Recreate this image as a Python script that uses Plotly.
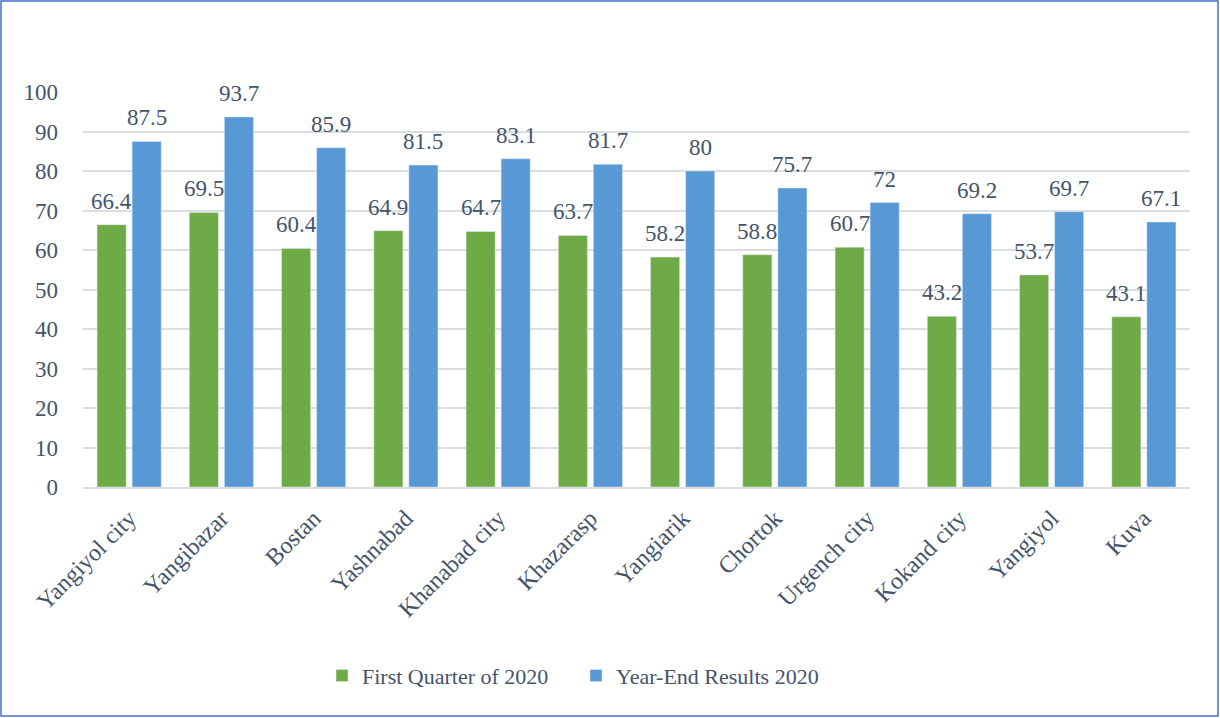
import plotly.graph_objects as go

# datos
categorias = ["Yangiyol city", "Yangibazar", "Bostan", "Yashnabad", "Khanabad city",
              "Khazarasp", "Yangiarik", "Chortok", "Urgench city", "Kokand city",
              "Yangiyol", "Kuva"]
primer_trim = [66.4, 69.5, 60.4, 64.9, 64.7, 63.7, 58.2, 58.8, 60.7, 43.2, 53.7, 43.1]
fin_anio = [87.5, 93.7, 85.9, 81.5, 83.1, 81.7, 80, 75.7, 72, 69.2, 69.7, 67.1]
y_ticks = list(range(0, 101, 10))

FUENTE = "Palatino Linotype, Book Antiqua, Palatino, Liberation Serif, serif"
TEXTO = "#44546a"

fig = go.Figure()
fig.add_trace(go.Bar(
    x=categorias, y=primer_trim, name="First Quarter of 2020",
    marker_color="#6eaa45", offsetgroup="a",
))
fig.add_trace(go.Bar(
    x=categorias, y=fin_anio, name="Year-End Results 2020",
    marker_color="#5898d4", offsetgroup="b",
))

# etiquetas de valor un poco separadas de la barra (como en Excel)
ancho_cat = 1 - 0.24
for serie, desp in ((primer_trim, -ancho_cat / 4), (fin_anio, ancho_cat / 4)):
    for i, v in enumerate(serie):
        fig.add_annotation(
            x=i + desp, y=v, text=f"{v:g}", showarrow=False,
            yanchor="bottom", yshift=9,
            font=dict(size=23, color=TEXTO, family=FUENTE),
        )

fig.update_yaxes(
    range=[0, 100], tickvals=y_ticks, showgrid=True,
    gridcolor="#dadde2", gridwidth=1.5, zeroline=False,
    ticks="", tickfont=dict(size=23, color=TEXTO), ticklabelstandoff=24,
)
fig.update_xaxes(
    tickangle=-45, showline=True, linecolor="#dadde2", linewidth=1.5,
    tickfont=dict(size=24, color=TEXTO), ticklabelstandoff=6,
)
fig.update_layout(
    width=1220, height=718,
    barmode="group", bargap=0.24, bargroupgap=0.17,
    font=dict(family=FUENTE, color=TEXTO),
    paper_bgcolor="white", plot_bgcolor="white",
    margin=dict(l=83, r=30, t=92, b=231),
    legend=dict(orientation="h", x=(322 - 83) / 1107, xanchor="left",
                y=-0.478, yanchor="middle",
                font=dict(size=22, color=TEXTO), itemwidth=30,
                entrywidth=209, entrywidthmode="pixels"),
    shapes=[dict(type="rect", xref="paper", yref="paper",
                 x0=-82 / 1107, x1=1 + 28 / 1107, y0=-229 / 395, y1=1 + 91 / 395,
                 line=dict(color="#4472c4", width=1.5))],
)

# quitar el margen del body para que la figura arranque en (0, 0)
fig.write_html("out.html", config={"displayModeBar": False},
               post_script="document.body.style.margin='0px';")
